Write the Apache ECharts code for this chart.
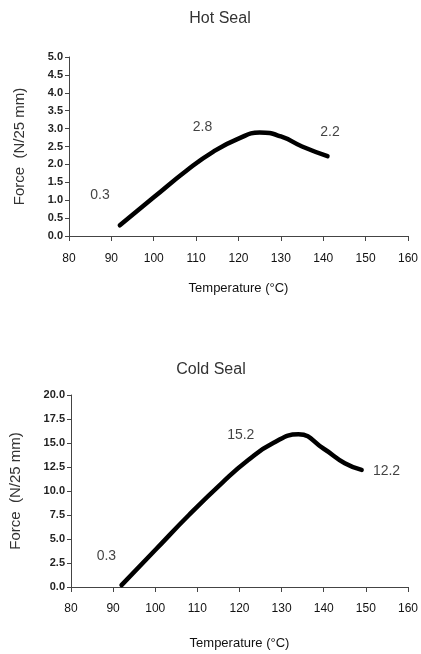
<!DOCTYPE html>
<html>
<head>
<meta charset="utf-8">
<title>Hot Seal / Cold Seal</title>
<script src="https://cdn.jsdelivr.net/npm/echarts@6/dist/echarts.min.js"></script>
<style>
  html, body { margin: 0; padding: 0; background: #fff; }
  #main { width: 421px; height: 654px; }
</style>
</head>
<body>
<div id="main"></div>
<script>
// hot seal curve
var hotTemp  = [92, 100, 108, 114, 120, 125, 130, 135, 141];
var hotForce = [0.3, 1.08, 1.85, 2.35, 2.72, 2.89, 2.78, 2.5, 2.23];
var hotLabels = ['0.3', '2.8', '2.2'];
var hotLabelPos = [[87.3, 1.15], [111.5, 3.04], [141.6, 2.9]];

// cold seal curve
var coldTemp  = [92, 100, 108, 116, 122, 128, 134, 140, 145, 149];
var coldForce = [0.2, 3.85, 7.5, 10.9, 13.2, 15.0, 15.9, 14.4, 12.9, 12.2];
var coldLabels = ['0.3', '15.2', '12.2'];
var coldLabelPos = [[88.4, 3.2], [120.3, 15.8], [154.9, 12.1]];

var xTicks = [80, 90, 100, 110, 120, 130, 140, 150, 160];

var font = "'Liberation Sans', Arial, Helvetica, sans-serif";

function pairs(xs, ys) {
    return xs.map(function (x, i) { return [x, ys[i]]; });
}
function labelData(pos, txt) {
    return pos.map(function (p, i) { return [p[0], p[1], txt[i]]; });
}

function xAxisFor(idx, margin, gap) {
    return {
        gridIndex: idx,
        type: 'value',
        min: xTicks[0],
        max: xTicks[xTicks.length - 1],
        interval: 10,
        name: 'Temperature (°C)',
        nameLocation: 'middle',
        nameGap: gap,
        nameTextStyle: { fontFamily: font, fontSize: 13, color: '#111' },
        axisLine: { show: true, onZero: false, lineStyle: { color: '#444', width: 1 } },
        axisTick: { show: true, length: 5, lineStyle: { color: '#444' } },
        axisLabel: { margin: margin, fontFamily: font, fontSize: 12, color: '#111' },
        splitLine: { show: false }
    };
}

function yAxisFor(idx, max, step, gap) {
    return {
        gridIndex: idx,
        type: 'value',
        min: 0,
        max: max,
        interval: step,
        name: 'Force  (N/25 mm)',
        nameLocation: 'middle',
        nameGap: gap,
        nameRotate: 90,
        nameTextStyle: { fontFamily: font, fontSize: 15, color: '#333' },
        axisLine: { show: true, lineStyle: { color: '#444', width: 1 } },
        axisTick: { show: true, length: 4, lineStyle: { color: '#444' } },
        axisLabel: {
            margin: 6, fontFamily: font, fontSize: 11, fontWeight: 'bold', color: '#222',
            formatter: function (v) { return v.toFixed(1); }
        },
        splitLine: { show: false }
    };
}

function curve(idx, data) {
    return {
        type: 'line',
        xAxisIndex: idx,
        yAxisIndex: idx,
        data: data,
        smooth: 0.5,
        showSymbol: false,
        lineStyle: { color: '#000', width: 4.5, cap: 'round' },
        silent: true,
        animation: false
    };
}

function labels(idx, data, size) {
    return {
        type: 'scatter',
        xAxisIndex: idx,
        yAxisIndex: idx,
        data: data,
        symbolSize: 0,
        silent: true,
        animation: false,
        label: {
            show: true,
            position: 'inside',
            fontFamily: font,
            fontSize: size,
            color: '#111',
            formatter: function (p) { return p.value[2]; }
        }
    };
}

var chart = echarts.init(document.getElementById('main'));

var option = {
    backgroundColor: '#ffffff',
    title: [
        { text: 'Hot Seal', left: 215, top: 6, textAlign: 'center',
          textStyle: { fontFamily: font, fontSize: 16, fontWeight: 'normal', color: '#333' } },
        { text: 'Cold Seal', left: 206, top: 357, textAlign: 'center',
          textStyle: { fontFamily: font, fontSize: 16, fontWeight: 'normal', color: '#333' } }
    ],
    grid: [
        { left: 69, top: 57, width: 340, height: 179 },
        { left: 69, top: 395, width: 343, height: 192 }
    ],
    xAxis: [xAxisFor(0, 17, 46), xAxisFor(1, 16, 50)],
    yAxis: [yAxisFor(0, 5, 0.5, 42), yAxisFor(1, 20, 2.5, 48)],
    series: [
        curve(0, pairs(hotTemp, hotForce)),
        labels(0, labelData(hotLabelPos, hotLabels), 14),
        curve(1, pairs(coldTemp, coldForce)),
        labels(1, labelData(coldLabelPos, coldLabels), 14)
    ]
};

chart.setOption(option);
</script>
</body>
</html>
